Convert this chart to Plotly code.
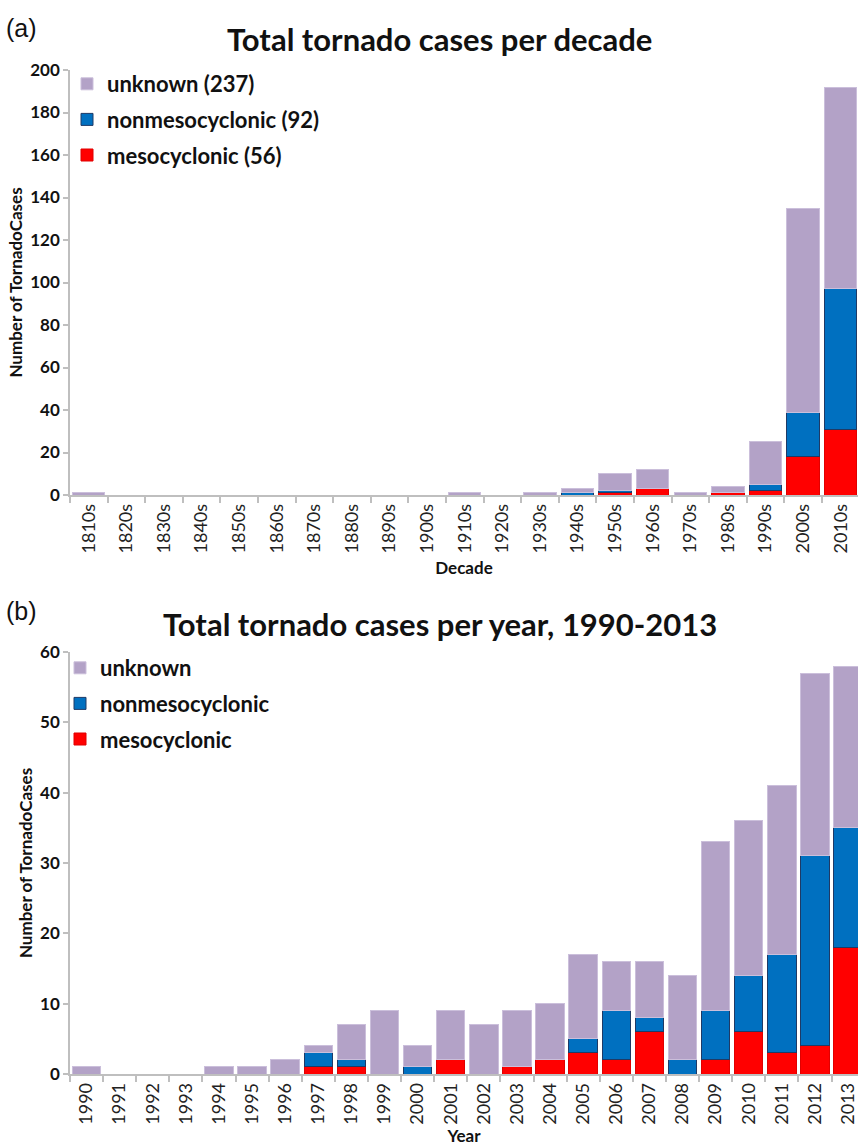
import plotly.graph_objects as go

# Tornado cases per decade, by type
decades = ["1810s", "1820s", "1830s", "1840s", "1850s", "1860s", "1870s", "1880s",
           "1890s", "1900s", "1910s", "1920s", "1930s", "1940s", "1950s", "1960s",
           "1970s", "1980s", "1990s", "2000s", "2010s"]
dec_meso = [0, 0, 0, 0, 0, 0, 0, 0, 0, 0, 0, 0, 0, 0, 1, 3, 0, 1, 2, 18, 31]
dec_nonmeso = [0, 0, 0, 0, 0, 0, 0, 0, 0, 0, 0, 0, 0, 1, 1, 0, 0, 0, 3, 21, 66]
dec_unknown = [1, 0, 0, 0, 0, 0, 0, 0, 0, 0, 1, 0, 1, 2, 8, 9, 1, 3, 20, 96, 95]

# Tornado cases per year, 1990-2013, by type
years = [str(y) for y in range(1990, 2014)]
yr_meso = [0, 0, 0, 0, 0, 0, 0, 1, 1, 0, 0, 2, 0, 1, 2, 3, 2, 6, 0, 2, 6, 3, 4, 18]
yr_nonmeso = [0, 0, 0, 0, 0, 0, 0, 2, 1, 0, 1, 0, 0, 0, 0, 2, 7, 2, 2, 7, 8, 14, 27, 17]
yr_unknown = [1, 0, 0, 0, 1, 1, 2, 1, 5, 9, 3, 7, 7, 8, 8, 12, 7, 8, 12, 24, 22, 24, 26, 23]

W, H = 858, 1147
FONT = "Lato"
C_UNK, C_NON, C_MESO = "#B3A2C7", "#0070C0", "#FF0000"
L_UNK, L_NON, L_MESO = "#CBBFDB", "#1F3A66", "#E00000"
AXIS_GRAY = "#BFBFBF"


def px_y(p):
    return 1 - p / H


def nonzero(vals):
    # empty categories get no bar (and so no zero-height outline)
    return [v if v else None for v in vals]


series = [
    ("mesocyclonic", C_MESO, L_MESO, dec_meso, yr_meso, 3),
    ("nonmesocyclonic", C_NON, L_NON, dec_nonmeso, yr_nonmeso, 2),
    ("unknown", C_UNK, L_UNK, dec_unknown, yr_unknown, 1),
]

fig = go.Figure()
for name, color, line, dvals, yvals, rank in series:
    fig.add_trace(go.Bar(
        x=decades, y=nonzero(dvals), name=f"{name} ({sum(dvals)})",
        marker=dict(color=color, line=dict(color=line, width=1)),
        xaxis="x", yaxis="y", legend="legend", legendgroup="a" + name,
        legendrank=rank,
    ))
for name, color, line, dvals, yvals, rank in series:
    fig.add_trace(go.Bar(
        x=years, y=nonzero(yvals), name=name,
        marker=dict(color=color, line=dict(color=line, width=1)),
        xaxis="x2", yaxis="y2", legend="legend2", legendgroup="b" + name,
        legendrank=rank,
    ))

xdom = [70 / W, 1]
common_x = dict(
    type="category", showline=True, linecolor=AXIS_GRAY, linewidth=1.5,
    ticks="outside", tickson="boundaries", ticklen=6, tickcolor=AXIS_GRAY,
    tickwidth=1.5, tickangle=-90, tickfont=dict(family=FONT, size=18, color="#222"),
    showgrid=False, zeroline=False, automargin=False,
)
common_y = dict(
    showline=True, linecolor=AXIS_GRAY, linewidth=1.5, ticks="outside",
    ticklen=5, tickcolor=AXIS_GRAY, tickwidth=1.5, showgrid=False, zeroline=False,
    tickfont=dict(family=FONT, size=17, color="#111", weight="bold"),
    automargin=False,
)
title_font_x = dict(family=FONT, size=17, color="#111", weight="bold")
title_font_y = dict(family=FONT, size=17, color="#111", weight="bold")
legend_common = dict(
    xanchor="left", yanchor="top", bgcolor="rgba(0,0,0,0)",
    font=dict(family=FONT, size=22, color="#111", weight="bold"),
    traceorder="grouped", tracegroupgap=4, itemwidth=30,
)

fig.update_layout(
    template="none",
    width=W, height=H, margin=dict(l=0, r=0, t=0, b=0, autoexpand=False),
    paper_bgcolor="white", plot_bgcolor="white",
    barmode="stack", bargap=0.14,
    xaxis=dict(common_x, domain=xdom, anchor="y", range=[-0.5, 20.46],
               title=dict(text="Decade", standoff=10, font=title_font_x)),
    yaxis=dict(common_y, domain=[px_y(495), px_y(70)], anchor="x", range=[0, 200], dtick=20,
               title=dict(text="Number of TornadoCases", standoff=3, font=title_font_y)),
    xaxis2=dict(common_x, domain=xdom, anchor="y2", range=[-0.5, 23.3],
                title=dict(text="Year", standoff=6, font=title_font_x)),
    yaxis2=dict(common_y, domain=[px_y(1074), px_y(652)], anchor="x2", range=[0, 60], dtick=10,
                title=dict(text="Number of TornadoCases", standoff=3, font=title_font_y)),
    legend=dict(legend_common, x=67 / W, y=px_y(63)),
    legend2=dict(legend_common, x=60 / W, y=px_y(647)),
    showlegend=True,
)

annotations = [
    dict(text="(a)", x=4 / W, y=px_y(28), xanchor="left", yanchor="middle",
         font=dict(family="Liberation Sans", size=25, color="#111")),
    dict(text="(b)", x=4 / W, y=px_y(611), xanchor="left", yanchor="middle",
         font=dict(family="Liberation Sans", size=25, color="#111")),
    dict(text="Total tornado cases per decade", x=440 / W, y=px_y(39),
         xanchor="center", yanchor="middle",
         font=dict(family=FONT, size=31, color="#111", weight="bold")),
    dict(text="Total tornado cases per year, 1990-2013", x=440 / W, y=px_y(624),
         xanchor="center", yanchor="middle",
         font=dict(family=FONT, size=31, color="#111", weight="bold")),
]
for a in annotations:
    a.update(xref="paper", yref="paper", showarrow=False)
fig.update_layout(annotations=annotations)

fig.write_html("out.html")
